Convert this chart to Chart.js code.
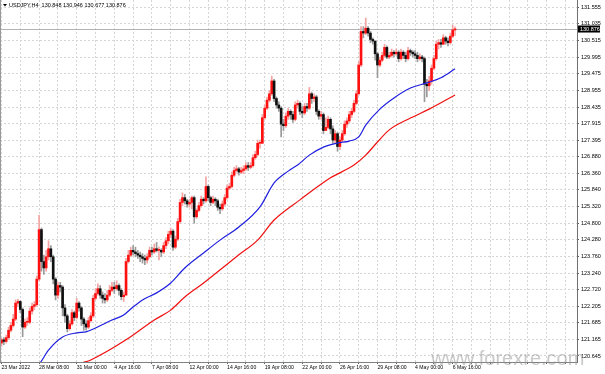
<!DOCTYPE html>
<html>
<head>
<meta charset="utf-8">
<title>USDJPY,H4</title>
<script src="https://cdn.jsdelivr.net/npm/chart.js@4.4.1/dist/chart.umd.min.js"></script>
<style>
  html, body { margin: 0; padding: 0; background: #fff; }
  #wrap { width: 605px; height: 374px; }
  canvas { display: block; }
</style>
</head>
<body>
<div id="wrap"><canvas id="chart" width="605" height="374"></canvas></div>
<script>
// time axis labels, one every 16 H4 bars (bar 0 = 23 Mar 16:00)
const timeLabels = ['23 Mar 2022', '28 Mar 08:00', '31 Mar 00:00', '4 Apr 16:00', '7 Apr 08:00',
    '12 Apr 00:00', '14 Apr 16:00', '19 Apr 08:00', '22 Apr 00:00', '26 Apr 16:00',
    '29 Apr 08:00', '4 May 00:00', '6 May 16:00'];

// price scale labels
const priceLabels = ['131.555', '131.035', '130.515', '129.995', '129.475', '128.955', '128.435',
    '127.915', '127.395', '126.880', '126.360', '125.840', '125.320', '124.800', '124.280',
    '123.760', '123.240', '122.720', '122.205', '121.685', '121.165', '120.645'];

const header = 'USDJPY,H4  130.848 130.946 130.677 130.876';
const lastPrice = 130.876;
const firstOpen = 121.05;

const closes = [
    121.15, 121.10, 121.22, 121.45, 121.60, 121.80, 122.30, 122.35, 122.10, 121.55,
    121.70, 121.70, 122.05, 122.20, 122.25, 123.05, 124.60, 123.60, 123.40, 123.75,
    124.00, 123.75, 123.05, 122.55, 122.85, 122.80, 122.15, 121.90, 121.50, 121.65,
    122.00, 121.85, 122.30, 122.15, 121.80, 121.65, 121.55, 121.75, 121.90, 122.45,
    122.60, 122.75, 122.55, 122.45, 122.40, 122.55, 122.70, 122.80, 122.75, 122.85,
    122.70, 122.50, 122.55, 123.60, 123.80, 123.95, 123.90, 123.85, 123.80, 123.75,
    123.70, 123.65, 123.75, 123.95, 123.90, 124.00, 123.95, 123.95, 123.90, 124.10,
    124.25, 124.45, 124.55, 124.05, 124.30, 124.85, 125.45, 125.60, 125.50, 125.40,
    125.45, 125.60, 125.00, 125.20, 125.35, 125.55, 125.50, 125.95, 125.60, 125.45,
    125.55, 125.50, 125.30, 125.25, 125.40, 125.60, 125.90, 125.95, 126.30, 126.45,
    126.50, 126.40, 126.45, 126.50, 126.60, 126.55, 126.60, 126.85, 126.95, 127.30,
    127.30, 128.10, 128.40, 128.65, 128.85, 129.25, 128.70, 128.50, 128.40, 127.90,
    127.85, 128.15, 128.30, 128.20, 128.05, 128.50, 128.55, 128.30, 128.25, 128.45,
    128.40, 128.85, 128.70, 128.75, 128.30, 128.15, 128.20, 127.70, 127.80, 128.05,
    127.75, 127.40, 127.60, 127.20, 127.40, 127.60, 127.90, 128.00, 128.20, 128.30,
    128.55, 128.85, 129.75, 130.80, 130.75, 130.90, 130.75, 130.55, 130.50, 130.10,
    129.75, 129.90, 130.05, 130.30, 130.00, 130.05, 130.15, 130.10, 130.15, 129.95,
    130.15, 130.05, 129.95, 130.20, 130.15, 130.10, 130.05, 129.95, 130.00, 129.95,
    129.15, 129.10, 129.25, 129.65, 129.95, 130.40, 130.45, 130.40, 130.60, 130.50,
    130.45, 130.65, 130.848, 130.876
];

const highs = [
    121.20, 121.22, 121.30, 121.55, 121.70, 121.95, 122.40, 122.42, 122.38, 122.15,
    121.80, 121.85, 122.15, 122.30, 122.35, 123.15, 125.05, 124.65, 123.80, 123.95,
    124.25, 124.10, 123.80, 123.10, 122.95, 122.95, 122.85, 122.25, 121.95, 121.75,
    122.10, 122.05, 122.45, 122.35, 122.20, 121.85, 121.75, 121.85, 122.00, 122.55,
    122.75, 122.90, 122.85, 122.65, 122.60, 122.70, 122.85, 122.95, 122.95, 123.00,
    122.90, 122.75, 122.65, 123.70, 123.95, 124.05, 124.10, 124.05, 123.95, 123.90,
    123.85, 123.80, 123.85, 124.05, 124.05, 124.15, 124.20, 124.05, 124.00, 124.20,
    124.35, 124.55, 124.65, 124.60, 124.40, 124.95, 125.55, 125.75, 125.70, 125.55,
    125.55, 125.65, 125.65, 125.25, 125.45, 125.65, 125.60, 126.25, 126.00, 125.65,
    125.65, 125.60, 125.55, 125.40, 125.50, 125.70, 126.00, 126.05, 126.40, 126.55,
    126.60, 126.55, 126.55, 126.60, 126.70, 126.70, 126.70, 126.95, 127.05, 127.40,
    127.40, 128.20, 128.50, 128.75, 128.95, 129.40, 129.30, 128.75, 128.60, 128.45,
    128.05, 128.25, 128.40, 128.35, 128.30, 128.60, 128.65, 128.60, 128.45, 128.55,
    128.55, 129.05, 128.90, 128.85, 128.80, 128.35, 128.30, 128.25, 128.10, 128.15,
    128.10, 127.85, 127.70, 127.65, 127.50, 127.70, 128.00, 128.10, 128.30, 128.40,
    128.65, 128.95, 129.85, 130.95, 130.95, 131.22, 130.95, 130.80, 130.60, 130.50,
    130.15, 130.00, 130.15, 130.40, 130.35, 130.15, 130.25, 130.20, 130.25, 130.20,
    130.25, 130.20, 130.15, 130.30, 130.25, 130.20, 130.20, 130.15, 130.10, 130.05,
    130.00, 129.30, 129.40, 129.75, 130.05, 130.50, 130.55, 130.55, 130.70, 130.65,
    130.60, 130.75, 131.00, 130.946
];

const lows = [
    120.95, 121.00, 121.05, 121.18, 121.40, 121.55, 121.75, 122.20, 122.00, 121.25,
    121.50, 121.60, 121.65, 121.95, 122.10, 122.20, 123.00, 123.30, 123.20, 123.30,
    123.65, 123.60, 122.90, 122.40, 122.45, 122.65, 121.90, 121.70, 121.40, 121.45,
    121.60, 121.75, 121.80, 122.05, 121.60, 121.45, 121.45, 121.50, 121.70, 121.85,
    122.40, 122.55, 122.45, 122.30, 122.30, 122.35, 122.50, 122.65, 122.60, 122.70,
    122.55, 122.40, 122.35, 122.55, 123.55, 123.75, 123.80, 123.75, 123.70, 123.60,
    123.55, 123.50, 123.55, 123.70, 123.80, 123.85, 123.90, 123.65, 123.75, 123.85,
    124.00, 124.15, 124.35, 123.95, 124.00, 124.25, 124.80, 125.35, 125.40, 125.30,
    125.30, 125.25, 124.80, 124.95, 125.15, 125.30, 125.40, 125.45, 125.50, 125.35,
    125.40, 125.35, 125.20, 125.10, 125.20, 125.35, 125.55, 125.85, 125.90, 126.25,
    126.40, 126.30, 126.35, 126.35, 126.45, 126.45, 126.50, 126.55, 126.80, 126.90,
    127.15, 127.30, 128.05, 128.35, 128.60, 128.80, 128.60, 128.40, 128.30, 127.50,
    127.70, 127.80, 128.05, 128.05, 127.95, 128.00, 128.40, 128.20, 128.10, 128.20,
    128.30, 128.35, 128.55, 128.60, 128.20, 128.05, 128.05, 127.60, 127.70, 127.75,
    127.60, 127.30, 127.30, 127.05, 127.10, 127.35, 127.55, 127.80, 127.95, 128.10,
    128.25, 128.50, 128.80, 129.70, 130.60, 130.70, 130.65, 130.45, 130.40, 129.90,
    129.35, 129.70, 129.85, 130.00, 129.95, 129.95, 130.00, 130.00, 130.05, 129.85,
    129.90, 129.95, 129.85, 129.90, 130.05, 130.00, 129.95, 129.85, 129.90, 129.85,
    128.60, 128.75, 128.95, 129.15, 129.60, 129.90, 130.25, 130.30, 130.40, 130.40,
    130.35, 130.40, 130.60, 130.677
];

// moving averages, read at a few bars along each curve
const maFastBars = [14, 16, 20, 26, 32, 36, 40, 47, 52, 56, 60, 66, 72, 78, 86, 93, 101, 110,
    116, 122, 126, 131, 137, 143, 148, 152, 155, 161, 167, 174, 181, 187, 193];
const maFastValues = [120.30, 120.39, 120.83, 121.24, 121.37, 121.40, 121.52, 121.77, 121.93,
    122.18, 122.40, 122.62, 122.93, 123.40, 123.87, 124.27, 124.68, 125.31, 126.06, 126.43,
    126.62, 126.93, 127.18, 127.31, 127.37, 127.50, 127.87, 128.37, 128.72, 129.03, 129.19,
    129.35, 129.63];

const maSlowBars = [30, 33, 38, 53, 65, 72, 78, 86, 94, 101, 109, 116, 127, 140, 150, 155,
    160, 165, 174, 182, 193];
const maSlowValues = [120.25, 120.39, 120.52, 121.15, 121.77, 122.08, 122.49, 122.93, 123.40,
    123.81, 124.27, 124.90, 125.53, 126.22, 126.62, 126.93, 127.34, 127.72, 128.09, 128.37,
    128.81];

const opens = closes.map((c, i) => i === 0 ? firstOpen : closes[i - 1]);
const isUp = closes.map((c, i) => c >= opens[i]);

const fontFamily = '"Liberation Sans", Arial, sans-serif';
const smallFont = { family: fontFamily, size: 5.5 };

const overlay = {
    id: 'overlay',
    beforeDatasetsDraw(chart) {
        const { ctx, chartArea, scales: { y } } = chart;
        const py = Math.round(y.getPixelForValue(lastPrice)) + 0.5;
        ctx.save();
        ctx.strokeStyle = '#b4b4b4';
        ctx.lineWidth = 1;
        ctx.beginPath();
        ctx.moveTo(chartArea.left, py);
        ctx.lineTo(chartArea.right, py);
        ctx.stroke();
        ctx.restore();
    },
    afterDraw(chart) {
        const { ctx, chartArea, scales: { y } } = chart;
        ctx.save();
        // left frame
        ctx.strokeStyle = '#9a9a9a';
        ctx.beginPath();
        ctx.moveTo(0.5, 0);
        ctx.lineTo(0.5, chartArea.bottom);
        ctx.stroke();

        // last price box on the scale
        const py = y.getPixelForValue(lastPrice);
        ctx.fillStyle = '#000';
        ctx.fillRect(chartArea.right + 1, py - 3.5, 22, 7);
        ctx.fillStyle = '#fff';
        ctx.font = `${smallFont.size}px ${fontFamily}`;
        ctx.textBaseline = 'middle';
        ctx.textAlign = 'left';
        ctx.fillText(lastPrice.toFixed(3), chartArea.right + 3, py);

        // header
        ctx.fillStyle = '#000';
        ctx.beginPath();
        ctx.moveTo(3, 4);
        ctx.lineTo(7, 4);
        ctx.lineTo(5, 6.5);
        ctx.closePath();
        ctx.fill();
        ctx.fillText(header, 9, 5.5);

        // watermark
        ctx.fillStyle = 'rgba(150, 150, 150, 0.5)';
        ctx.font = `20px ${fontFamily}`;
        ctx.textBaseline = 'alphabetic';
        ctx.fillText('www.forexre.com', 431, 365);
        ctx.restore();
    }
};

new Chart(document.getElementById('chart'), {
    data: {
        datasets: [
            {
                type: 'line',
                data: maFastBars.map((b, i) => ({ x: b, y: maFastValues[i] })),
                borderColor: '#1f1fe0',
                borderWidth: 1.2,
                pointRadius: 0,
                cubicInterpolationMode: 'monotone',
                order: 0
            },
            {
                type: 'line',
                data: maSlowBars.map((b, i) => ({ x: b, y: maSlowValues[i] })),
                borderColor: '#f01010',
                borderWidth: 1.2,
                pointRadius: 0,
                cubicInterpolationMode: 'monotone',
                order: 0
            },
            {
                type: 'bar',
                data: closes.map((c, i) => ({ x: i, y: [opens[i], c] })),
                backgroundColor: isUp.map(u => u ? '#ff1010' : '#101010'),
                barThickness: 2,
                minBarLength: 1,
                grouped: false,
                order: 1
            },
            {
                type: 'bar',
                data: highs.map((h, i) => ({ x: i, y: [lows[i], h] })),
                backgroundColor: isUp.map(u => u ? '#f5a3a3' : '#9a9a9a'),
                barThickness: 1,
                grouped: false,
                order: 2
            }
        ]
    },
    options: {
        responsive: false,
        animation: false,
        layout: { padding: 0, autoPadding: false },
        plugins: {
            legend: { display: false },
            tooltip: { enabled: false }
        },
        scales: {
            x: {
                type: 'linear',
                position: 'bottom',
                offset: false,
                min: -0.64,
                max: 244.9,
                afterBuildTicks: (scale) => {
                    const ticks = [];
                    for (let v = 0; v <= 240; v += 8) ticks.push({ value: v });
                    scale.ticks = ticks;
                },
                afterFit: (scale) => {
                    scale.height = 12;
                    scale.paddingLeft = 0;
                    scale.paddingRight = 0;
                },
                ticks: {
                    autoSkip: false,
                    maxRotation: 0,
                    align: 'start',
                    padding: 1,
                    color: '#000',
                    font: { family: fontFamily, size: 5.1 },
                    callback: (value) => value % 16 === 0 ? (timeLabels[value / 16] || '') : ''
                },
                grid: { offset: false, color: '#d6d6d6', tickLength: 2, tickColor: '#606060' },
                border: { display: true, color: '#808080', dash: [2, 2] }
            },
            y: {
                type: 'linear',
                position: 'right',
                min: 120.457,
                max: 131.784,
                afterBuildTicks: (scale) => {
                    scale.ticks = priceLabels.map(p => ({ value: parseFloat(p) }));
                },
                afterFit: (scale) => {
                    scale.width = 28;
                    scale.paddingTop = 0;
                    scale.paddingBottom = 0;
                },
                ticks: {
                    padding: 2,
                    color: '#000',
                    font: smallFont,
                    callback: (value, index) => priceLabels[index]
                },
                grid: { color: '#d6d6d6', tickLength: 2, tickColor: '#606060' },
                border: { display: true, color: '#707070', dash: [2, 2] }
            }
        }
    },
    plugins: [overlay]
});
</script>
</body>
</html>
